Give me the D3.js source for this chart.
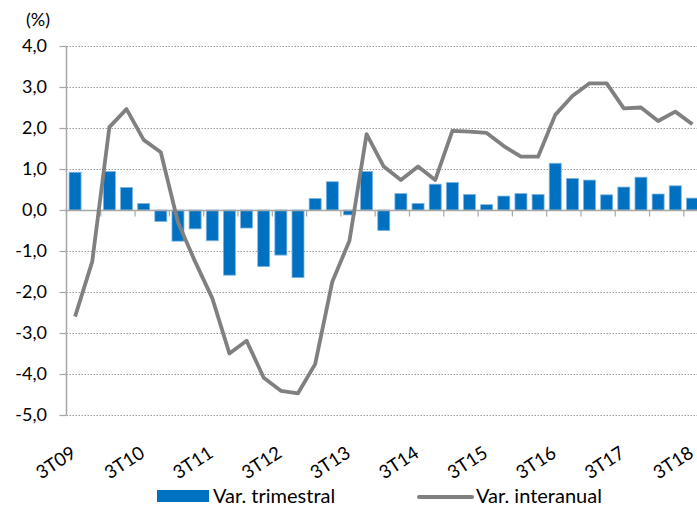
<!DOCTYPE html>
<html>
<head>
<meta charset="utf-8">
<script src="https://cdn.jsdelivr.net/npm/d3@7"></script>
<style>
  html, body { margin: 0; padding: 0; background: #fff; }
  svg { display: block; font-family: Lato, "Noto Sans", sans-serif; }
</style>
</head>
<body>
<svg id="chart" width="697" height="511"></svg>
<script>
// ---- data ----
const categories = [
  "3T09","4T09","1T10","2T10","3T10","4T10","1T11","2T11","3T11","4T11",
  "1T12","2T12","3T12","4T12","1T13","2T13","3T13","4T13","1T14","2T14",
  "3T14","4T14","1T15","2T15","3T15","4T15","1T16","2T16","3T16","4T16",
  "1T17","2T17","3T17","4T17","1T18","2T18","3T18"
];
const varTrimestral = [
  0.92, 0.00, 0.94, 0.55, 0.16, -0.28, -0.76, -0.46, -0.75, -1.59,
  -0.44, -1.38, -1.10, -1.65, 0.28, 0.69, -0.12, 0.94, -0.50, 0.40,
  0.16, 0.63, 0.67, 0.38, 0.13, 0.34, 0.40, 0.38, 1.14, 0.77,
  0.73, 0.37, 0.56, 0.80, 0.39, 0.59, 0.29
];
const varInteranual = [
  -2.60, -1.26, 2.02, 2.46, 1.71, 1.41, -0.30, -1.26, -2.15, -3.50,
  -3.19, -4.09, -4.41, -4.47, -3.76, -1.75, -0.75, 1.85, 1.06, 0.73,
  1.06, 0.73, 1.93, 1.91, 1.88, 1.56, 1.30, 1.30, 2.32, 2.78,
  3.09, 3.09, 2.48, 2.50, 2.17, 2.40, 2.09
];
const yTicks = [-5, -4, -3, -2, -1, 0, 1, 2, 3, 4];
const xLabelEvery = 4;
const seriesNames = ["Var. trimestral", "Var. interanual"];
const unitLabel = "(%)";

// ---- layout ----
const svg = d3.select("#chart");
const plot = { left: 66.5, right: 701, top: 46, bottom: 415 };
const barColor = "#0070C0";
const lineColor = "#808080";
const axisColor = "#a6a6a6";

const x = d3.scaleBand()
  .domain(d3.range(categories.length))
  .range([plot.left, plot.right])
  .paddingInner(0.3)
  .paddingOuter(0.15);
const step = x.step();
const y = d3.scaleLinear().domain([-5, 4]).range([plot.bottom, plot.top]);

const locale = d3.formatLocale({decimal: ",", thousands: ".", grouping: [3], currency: ["", "€"], minus: "-"});
const fmt = locale.format(".1f");

// gridlines
svg.append("g").selectAll("line")
  .data(yTicks.filter(d => d !== 0))
  .join("line")
  .attr("x1", plot.left).attr("x2", 697)
  .attr("y1", d => Math.round(y(d)) + 0.5).attr("y2", d => Math.round(y(d)) + 0.5)
  .attr("stroke", "#9a9a9a")
  .attr("stroke-width", 1)
  .attr("stroke-dasharray", "1.5,1.5");

// bars
svg.append("g").selectAll("rect")
  .data(varTrimestral)
  .join("rect")
  .attr("x", (d, i) => x(i))
  .attr("width", x.bandwidth())
  .attr("y", d => y(Math.max(0, d)))
  .attr("height", d => Math.abs(y(d) - y(0)))
  .attr("fill", barColor)
  .attr("stroke", "#7fb6e0")
  .attr("stroke-width", 0.8);

// y axis line + ticks
const y0px = Math.round(y(0)) + 0.5;
svg.append("line")
  .attr("x1", plot.left).attr("x2", plot.left)
  .attr("y1", plot.top).attr("y2", plot.bottom)
  .attr("stroke", axisColor).attr("stroke-width", 1.5);
svg.append("g").selectAll("line")
  .data(yTicks)
  .join("line")
  .attr("x1", plot.left - 7).attr("x2", plot.left)
  .attr("y1", d => Math.round(y(d)) + 0.5).attr("y2", d => Math.round(y(d)) + 0.5)
  .attr("stroke", axisColor).attr("stroke-width", 1.2);

// x axis line at zero
svg.append("line")
  .attr("x1", plot.left).attr("x2", 697)
  .attr("y1", y0px).attr("y2", y0px)
  .attr("stroke", axisColor).attr("stroke-width", 1.5);
// x ticks every 2 categories at boundaries
svg.append("g").selectAll("line")
  .data(d3.range(0, categories.length, 2))
  .join("line")
  .attr("x1", i => plot.left + i * step).attr("x2", i => plot.left + i * step)
  .attr("y1", y0px).attr("y2", y0px + 6)
  .attr("stroke", axisColor).attr("stroke-width", 1.2);

// y labels
svg.append("g").selectAll("text")
  .data(yTicks)
  .join("text")
  .attr("x", 47)
  .attr("y", d => y(d))
  .attr("dy", "0.35em")
  .attr("text-anchor", "end")
  .attr("font-size", 18)
  .attr("fill", "#000")
  .text(d => fmt(d));

svg.append("text")
  .attr("x", 38).attr("y", 20)
  .attr("dy", "0.35em")
  .attr("text-anchor", "middle")
  .attr("font-size", 18)
  .attr("fill", "#000")
  .text(unitLabel);

// x labels
svg.append("g").selectAll("text")
  .data(categories.map((c, i) => ({c, i})).filter(d => d.i % xLabelEvery === 0))
  .join("text")
  .attr("transform", d => `translate(${x(d.i) + x.bandwidth() / 2 - 5},${445}) rotate(-33)`)
  .attr("text-anchor", "end")
  .attr("dy", "0.72em")
  .attr("font-size", 18.5)
  .attr("fill", "#000")
  .text(d => d.c);

// line series
const line = d3.line()
  .x((d, i) => x(i) + x.bandwidth() / 2)
  .y(d => y(d));
svg.append("path")
  .datum(varInteranual)
  .attr("d", line)
  .attr("fill", "none")
  .attr("stroke", lineColor)
  .attr("stroke-width", 3.8)
  .attr("stroke-linejoin", "round");

// legend
const lg = svg.append("g");
lg.append("rect").attr("x", 157).attr("y", 490).attr("width", 52).attr("height", 12).attr("fill", barColor);
lg.append("text").attr("x", 213).attr("y", 496).attr("dy", "0.35em").attr("font-size", 20).attr("fill", "#000").text(seriesNames[0]);
lg.append("line").attr("x1", 419).attr("x2", 472).attr("y1", 497).attr("y2", 497)
  .attr("stroke", lineColor).attr("stroke-width", 4).attr("stroke-linecap", "round");
lg.append("text").attr("x", 476).attr("y", 496).attr("dy", "0.35em").attr("font-size", 20).attr("fill", "#000").text(seriesNames[1]);
</script>
</body>
</html>
